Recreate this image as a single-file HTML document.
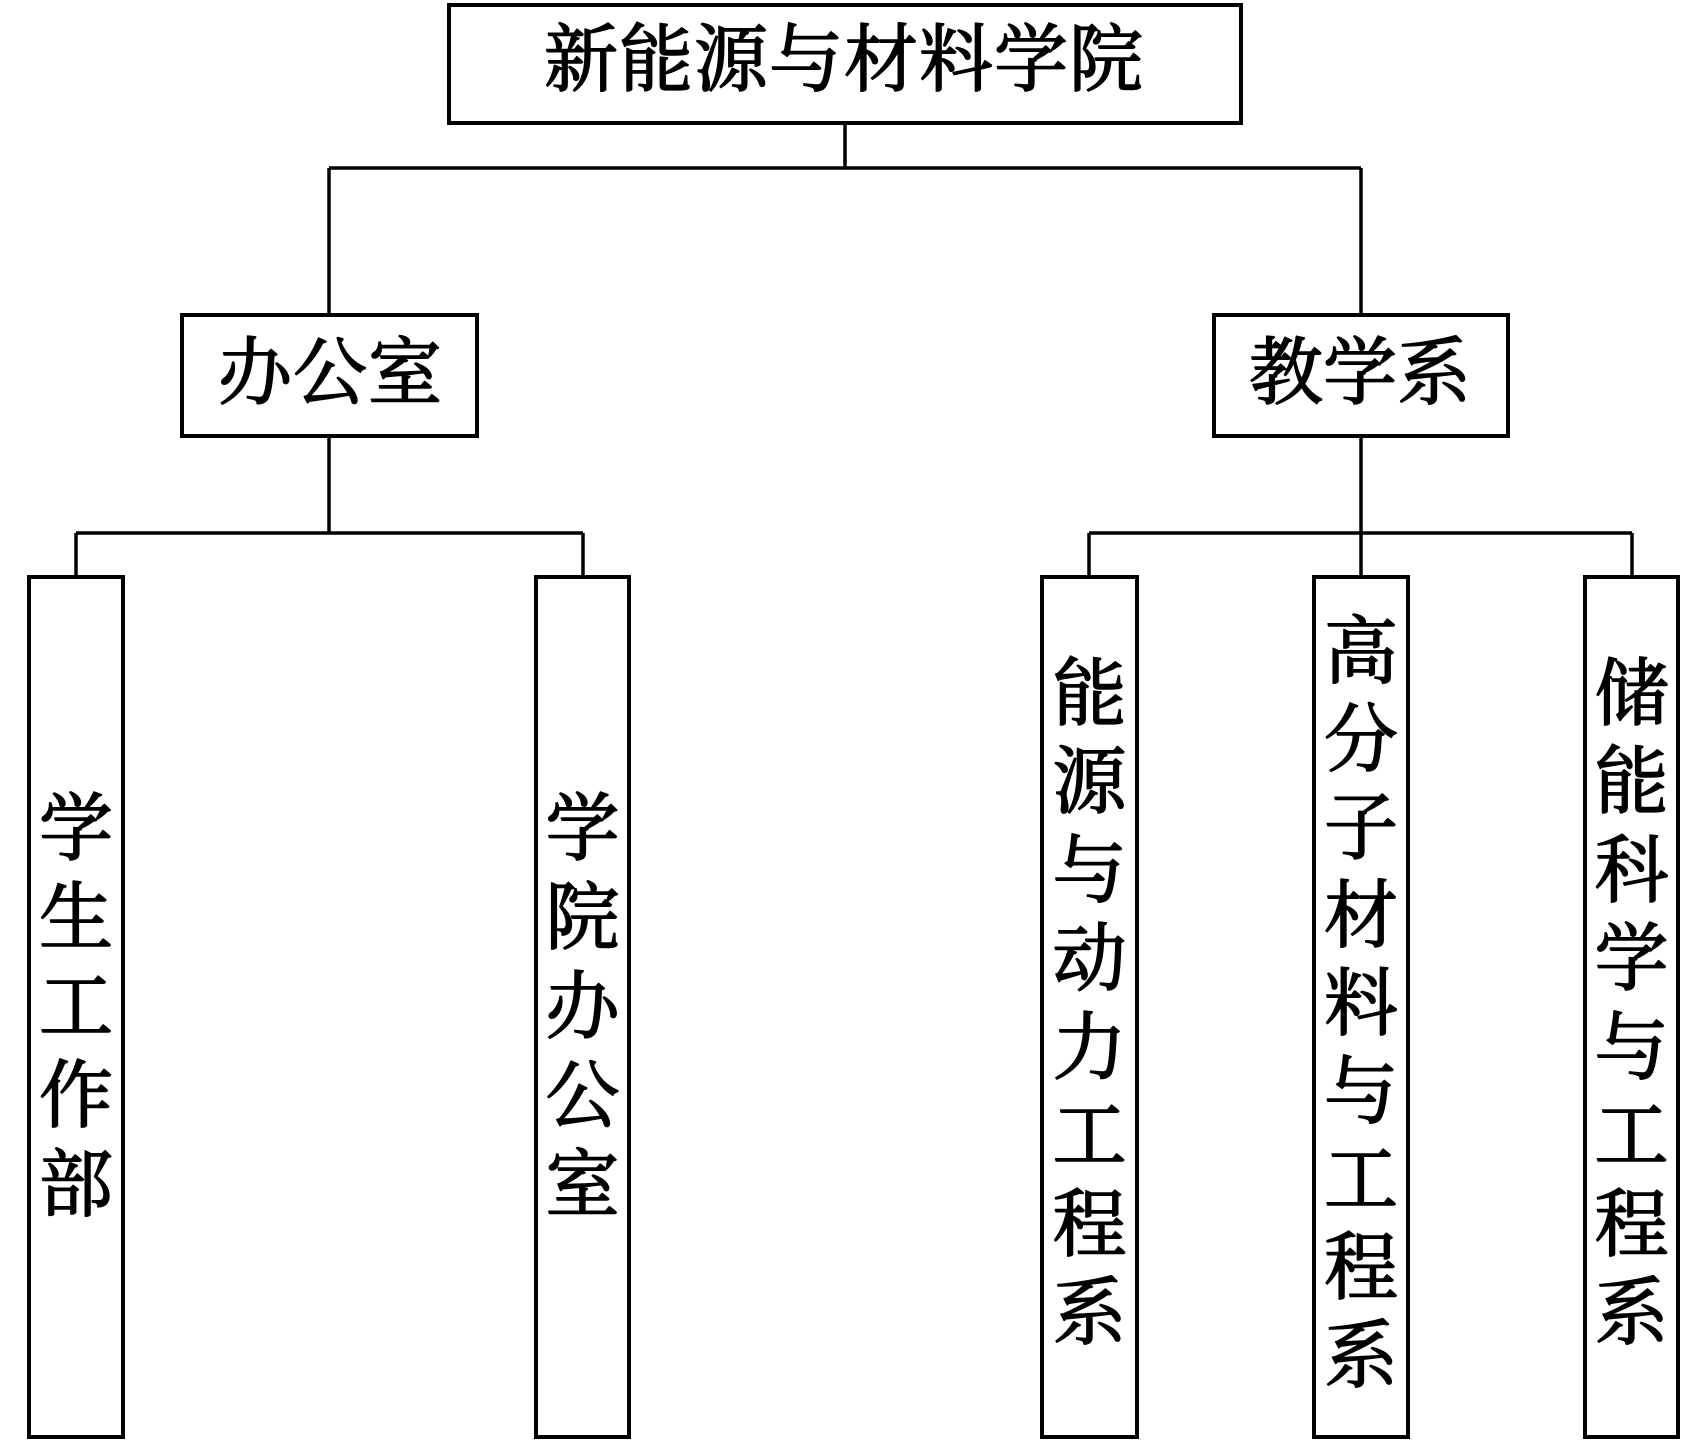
<!DOCTYPE html>
<html>
<head>
<meta charset="utf-8">
<style>
  html,body{margin:0;padding:0;background:#fff;}
  body{width:1708px;height:1441px;overflow:hidden;}
  svg{display:block;}
  text{font-family:"Liberation Serif","Noto Serif CJK SC","Noto Sans CJK SC",serif;font-size:74px;font-weight:normal;fill:#000;stroke:#000;stroke-width:1.6px;stroke-linejoin:round;text-anchor:middle;dominant-baseline:central;}
</style>
</head>
<body>
<svg width="1708" height="1441" viewBox="0 0 1708 1441" xmlns="http://www.w3.org/2000/svg">
  <g fill="none" stroke="#000" stroke-width="4" stroke-linejoin="miter">
    <rect x="449" y="5" width="792" height="118"/>
    <rect x="182" y="315" width="295" height="121"/>
    <rect x="1214" y="315" width="294" height="121"/>
    <rect x="29" y="577" width="94" height="860"/>
    <rect x="536" y="577" width="93" height="860"/>
    <rect x="1042" y="577" width="95" height="860"/>
    <rect x="1314" y="577" width="94" height="860"/>
    <rect x="1585" y="577" width="93" height="860"/>
  </g>
  <g fill="none" stroke="#000" stroke-width="3.5">
    <line x1="845" y1="123" x2="845" y2="168"/>
    <line x1="329" y1="168" x2="1361" y2="168"/>
    <line x1="329" y1="168" x2="329" y2="315"/>
    <line x1="1361" y1="168" x2="1361" y2="315"/>
    <line x1="329" y1="436" x2="329" y2="533"/>
    <line x1="76" y1="533" x2="583" y2="533"/>
    <line x1="76" y1="533" x2="76" y2="577"/>
    <line x1="583" y1="533" x2="583" y2="577"/>
    <line x1="1361" y1="436" x2="1361" y2="577"/>
    <line x1="1089" y1="533" x2="1632" y2="533"/>
    <line x1="1089" y1="533" x2="1089" y2="577"/>
    <line x1="1632" y1="533" x2="1632" y2="577"/>
  </g>

  <text x="581" y="61">新</text>
  <text x="656" y="61">能</text>
  <text x="731" y="61">源</text>
  <text x="806" y="61">与</text>
  <text x="881" y="61">材</text>
  <text x="956" y="61">料</text>
  <text x="1031" y="61">学</text>
  <text x="1106" y="61">院</text>

  <text x="255" y="374">办</text>
  <text x="330" y="374">公</text>
  <text x="405" y="374">室</text>

  <text x="1286" y="374">教</text>
  <text x="1360" y="374">学</text>
  <text x="1434" y="374">系</text>

  <text x="76" y="830">学</text>
  <text x="76" y="919">生</text>
  <text x="76" y="1008">工</text>
  <text x="76" y="1097">作</text>
  <text x="76" y="1186">部</text>

  <text x="582.5" y="830">学</text>
  <text x="582.5" y="919">院</text>
  <text x="582.5" y="1008">办</text>
  <text x="582.5" y="1097">公</text>
  <text x="582.5" y="1186">室</text>

  <text x="1089.5" y="695">能</text>
  <text x="1089.5" y="783">源</text>
  <text x="1089.5" y="872">与</text>
  <text x="1089.5" y="960">动</text>
  <text x="1089.5" y="1049">力</text>
  <text x="1089.5" y="1137">工</text>
  <text x="1089.5" y="1226">程</text>
  <text x="1089.5" y="1314">系</text>

  <text x="1361" y="653">高</text>
  <text x="1361" y="741">分</text>
  <text x="1361" y="829">子</text>
  <text x="1361" y="917">材</text>
  <text x="1361" y="1005">料</text>
  <text x="1361" y="1093">与</text>
  <text x="1361" y="1181">工</text>
  <text x="1361" y="1269">程</text>
  <text x="1361" y="1357">系</text>

  <text x="1631.5" y="695">储</text>
  <text x="1631.5" y="783">能</text>
  <text x="1631.5" y="872">科</text>
  <text x="1631.5" y="960">学</text>
  <text x="1631.5" y="1049">与</text>
  <text x="1631.5" y="1137">工</text>
  <text x="1631.5" y="1226">程</text>
  <text x="1631.5" y="1314">系</text>
</svg>
</body>
</html>
